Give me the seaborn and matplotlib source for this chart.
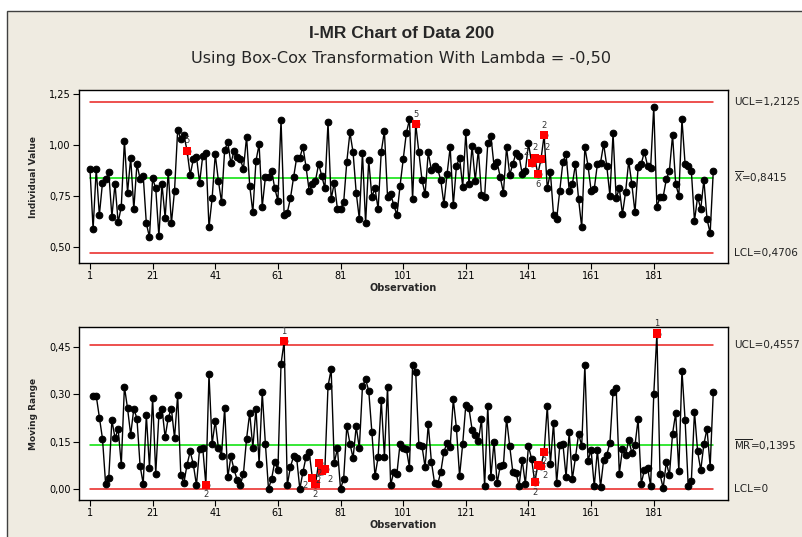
import numpy as np
import pandas as pd
import matplotlib
matplotlib.use("Agg")
import matplotlib.pyplot as plt
import seaborn as sns
from matplotlib.patches import Rectangle
import matplotlib.transforms as mtransforms

# ---------------- data ----------------
individual = [
    0.883, 0.588, 0.883, 0.657, 0.816, 0.832, 0.867, 0.649, 0.810, 0.621,
    0.698, 1.022, 0.767, 0.939, 0.685, 0.908, 0.834, 0.850, 0.616, 0.548,
    0.837, 0.788, 0.554, 0.808, 0.644, 0.870, 0.616, 0.777, 1.075, 1.030,
    1.050, 0.973, 0.854, 0.932, 0.944, 0.816, 0.947, 0.960, 0.597, 0.739,
    0.955, 0.826, 0.720, 0.977, 1.014, 0.911, 0.973, 0.944, 0.932, 0.883,
    1.042, 0.801,
    0.670, 0.924, 1.004, 0.698, 0.842, 0.842, 0.875, 0.788, 0.728, 1.124,
    0.657, 0.669, 0.739, 0.842, 0.939, 0.939, 0.993, 0.891, 0.775, 0.810,
    0.826, 0.908, 0.850, 0.788, 1.113, 0.734, 0.816, 0.687, 0.687, 0.720,
    0.919, 1.063, 0.965, 0.767, 0.638, 0.963, 0.616, 0.927, 0.747, 0.788,
    0.687, 0.968, 1.070, 0.747, 0.760, 0.706, 0.657,
    0.801, 0.932, 1.059, 1.127, 0.734, 1.104, 0.965, 0.829, 0.760, 0.965,
    0.878, 0.898, 0.883, 0.829, 0.711, 0.857, 0.990, 0.706, 0.898, 0.939,
    0.796, 1.063, 0.808, 0.996, 0.826, 0.977, 0.756, 0.747, 1.009, 1.047,
    0.898, 0.916, 0.842, 0.767, 0.990, 0.854, 0.908, 0.960, 0.949, 0.857,
    0.873, 1.009, 0.914, 0.935, 0.859, 0.932, 1.050, 0.788, 0.867, 0.657,
    0.638, 0.777,
    0.919, 0.957, 0.777, 0.808, 0.908, 0.734, 0.597, 0.990, 0.900,
    0.777, 0.785, 0.908, 0.914, 1.006, 0.898, 0.752, 1.059, 0.739, 0.788,
    0.662, 0.769, 0.923, 0.808, 0.670, 0.891, 0.908, 0.968, 0.900, 0.890,
    1.190, 0.698, 0.744, 0.747, 0.832, 0.875, 1.050, 0.810, 0.752, 1.127,
    0.908, 0.898, 0.873, 0.628, 0.747, 0.687, 0.829, 0.638, 0.567, 0.873,
]
observations = list(range(1, len(individual) + 1))

ucl_i, center_i, lcl_i = 1.2125, 0.8415, 0.4706
ucl_mr, center_mr, lcl_mr = 0.4557, 0.1395, 0.0

ind_flag_obs = [32, 105, 142, 143, 144, 145, 146]
ind_flag_txt = ["5", "5", "2", "2", "6", "2", "2"]
mr_flag_obs = [38, 63, 72, 73, 74, 75, 76, 143, 144, 145, 146, 182]
mr_flag_txt = ["2", "1", "2", "2", "2", "2", "2", "2", "2", "2", "2", "1"]

xtick_vals = [1, 21, 41, 61, 81, 101, 121, 141, 161, 181]
ind_yticks = [0.50, 0.75, 1.00, 1.25]
mr_yticks = [0.00, 0.15, 0.30, 0.45]

title = "I-MR Chart of Data 200"
subtitle = "Using Box-Cox Transformation With Lambda = -0,50"

# label offsets (points) for the flag numbers
ind_flag_off = {32: (0, 4), 105: (0, 4), 142: (-4, 4), 143: (0, 5),
                144: (0, -4), 145: (4, 5), 146: (0, 4)}
mr_flag_off = {38: (0, -4), 63: (0, 4), 72: (-5, -2), 73: (0, -4),
               74: (0, -4), 75: (-3, -4), 76: (4, -4), 143: (0, -4),
               144: (-3, -4), 145: (3, -4), 146: (0, -4), 182: (0, 4)}

# ---------------- derived tables ----------------
df_i = pd.DataFrame({"obs": observations, "val": individual})
mr_vals = np.abs(np.diff(np.array(individual)))
df_mr = pd.DataFrame({"obs": observations[1:], "val": mr_vals})

# ---------------- style ----------------
sns.set_style("white")
plt.rcParams["font.family"] = ["DejaVu Sans"]
plt.rcParams["mathtext.fontset"] = "custom"
plt.rcParams["mathtext.rm"] = "DejaVu Sans"

W, H = 803, 537
fig = plt.figure(figsize=(W / 100, H / 100), dpi=100, facecolor="white")
fig.patches.append(Rectangle((7 / W, -0.05), 1.2, (1 - 11 / H) + 0.05,
                             transform=fig.transFigure, facecolor="#EFEBE1",
                             edgecolor="#404040", lw=1.0, zorder=-10))

def fx(px):
    return px / W

def fy(py):
    return 1 - py / H

ax1 = fig.add_axes([fx(79), fy(263), fx(728) - fx(79), fy(90) - fy(263)])
ax2 = fig.add_axes([fx(79), fy(500), fx(728) - fx(79), fy(327) - fy(500)])

def comma(v):
    return f"{v:.2f}".replace(".", ",")

for ax, df, ylim, yt, lines, labels, yl in [
    (ax1, df_i, (0.4214, 1.2715), ind_yticks,
     [(ucl_i, "#E8201E"), (center_i, "#00E000"), (lcl_i, "#E8201E")],
     ["UCL=1,2125", r"$\overline{\mathrm{X}}$=0,8415", "LCL=0,4706"],
     "Individual Value"),
    (ax2, df_mr, (-0.0348, 0.5127), mr_yticks,
     [(ucl_mr, "#E8201E"), (center_mr, "#00E000"), (lcl_mr, "#E8201E")],
     ["UCL=0,4557", r"$\overline{\mathrm{MR}}$=0,1395", "LCL=0"],
     "Moving Range"),
]:
    ax.set_facecolor("white")
    for (yv, c) in lines:
        ax.plot([1, 200], [yv, yv], color=c, lw=1.1, zorder=1)
    sns.lineplot(data=df, x="obs", y="val", ax=ax, color="black", lw=1.0,
                 marker="o", markersize=4.8, markeredgecolor="black",
                 markerfacecolor="black", zorder=3, estimator=None)
    ax.set_xlim(-2.5, 204.7)
    ax.set_ylim(*ylim)
    ax.set_xticks(xtick_vals)
    ax.set_xticklabels([str(v) for v in xtick_vals], fontsize=7)
    ax.set_yticks(yt)
    ax.set_yticklabels([comma(v) for v in yt], fontsize=7)
    ax.tick_params(axis="both", direction="out", length=4, width=0.8,
                   colors="black", pad=2, bottom=True, left=True)
    for s in ax.spines.values():
        s.set_color("black")
        s.set_linewidth(1.0)
    trans = mtransforms.blended_transform_factory(ax.transAxes, ax.transData)
    for (yv, c), lab in zip(lines, labels):
        ax.text(1.010, yv, lab, transform=trans, fontsize=7.5,
                va="center", ha="left", color="#222222", clip_on=False)

# red flagged points
fi = df_i[df_i["obs"].isin(ind_flag_obs)]
sns.scatterplot(data=fi, x="obs", y="val", ax=ax1, marker="s", color="red",
                s=34, edgecolor="none", zorder=5, legend=False)
fm = df_mr[df_mr["obs"].isin(mr_flag_obs)]
sns.scatterplot(data=fm, x="obs", y="val", ax=ax2, marker="s", color="red",
                s=34, edgecolor="none", zorder=5, legend=False)
for ax, yl in [(ax1, "Individual Value"), (ax2, "Moving Range")]:
    ax.set_xlabel("Observation", fontsize=7, fontweight="bold", labelpad=1)
    ax.set_ylabel(yl, fontsize=6.5, fontweight="bold", labelpad=8)

vi = dict(zip(observations, individual))
for o, t in zip(ind_flag_obs, ind_flag_txt):
    dx, dy = ind_flag_off[o]
    ax1.annotate(t, (o, vi[o]), xytext=(dx, dy), textcoords="offset points",
                 ha="center", va="bottom" if dy > 0 else "top", fontsize=6,
                 color="#333333", zorder=6, annotation_clip=False)
vm = dict(zip(df_mr["obs"], df_mr["val"]))
for o, t in zip(mr_flag_obs, mr_flag_txt):
    dx, dy = mr_flag_off[o]
    ax2.annotate(t, (o, vm[o]), xytext=(dx, dy),
                 textcoords="offset points", ha="center",
                 va="bottom" if dy > 0 else "top", fontsize=6, color="#333333",
                 zorder=6, annotation_clip=False)

fig.text(0.5, fy(33), title, ha="center", va="center", fontsize=12.5,
         fontweight="bold", family=["Liberation Sans", "DejaVu Sans"])
fig.text(0.5, fy(59), subtitle, ha="center", va="center", fontsize=11.6)

fig.savefig("out.png", dpi=100, facecolor=fig.get_facecolor())
